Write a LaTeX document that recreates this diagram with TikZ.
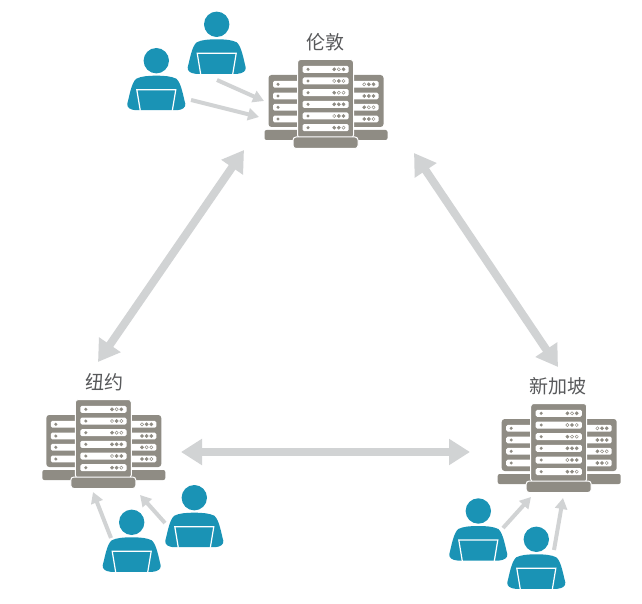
\documentclass[tikz,border=0pt]{standalone}
\usepackage{fontspec}
\usepackage{xcolor}
\usepackage{tikz}
\usetikzlibrary{arrows.meta}
\newfontfamily\cjk{Noto Sans CJK SC}
\definecolor{srvgray}{HTML}{8F8C84}
\definecolor{usrblue}{HTML}{1A93B5}
\definecolor{arrgray}{HTML}{D1D3D4}
\definecolor{txtgray}{HTML}{58595B}
\tikzset{
  srvpic/.pic={
    \fill[srvgray,rounded corners=2pt] (-61,-7) rectangle (-20,3);
    \fill[srvgray,rounded corners=2pt] (20,-7) rectangle (62,3);
    \fill[srvgray,rounded corners=3pt] (-57,-62) rectangle (-20,-10);
    \fill[srvgray,rounded corners=3pt] (20,-62) rectangle (58,-10);
    \foreach \y/\da/\db/\dc in {-52.7/white/srvgray/srvgray,-41/srvgray/srvgray/srvgray,-29.7/srvgray/white/white,-18/srvgray/srvgray/white} {
      \fill[white,rounded corners=1.5pt] (-52.5,\y-3.4) rectangle (-20,\y+3.4);
      \fill[white,rounded corners=1.5pt] (20,\y-3.4) rectangle (53,\y+3.4);
      \fill[srvgray] (-47.5,\y) circle (1.7);
      \filldraw[srvgray,line width=.5pt,fill=\da] (38.7,\y) circle (1.6);
      \filldraw[srvgray,line width=.5pt,fill=\db] (43.3,\y) circle (1.6);
      \filldraw[srvgray,line width=.5pt,fill=\dc] (48,\y) circle (1.6);
    }
    \filldraw[draw=white,fill=srvgray,line width=1pt,rounded corners=3pt] (-28,1) rectangle (28,-77.5);
    \foreach \y/\da/\db/\dc in {-67.7/srvgray/white/srvgray,-56/white/srvgray/white,-44.3/srvgray/white/white,-32.7/srvgray/srvgray/srvgray,-21/white/srvgray/srvgray,-9.3/srvgray/srvgray/white} {
      \fill[white,rounded corners=1.5pt] (-23,\y-3.5) rectangle (23.2,\y+3.5);
      \fill[srvgray] (-17.5,\y) circle (1.7);
      \filldraw[srvgray,line width=.5pt,fill=\da] (8.7,\y) circle (1.6);
      \filldraw[srvgray,line width=.5pt,fill=\db] (13.3,\y) circle (1.6);
      \filldraw[srvgray,line width=.5pt,fill=\dc] (18,\y) circle (1.6);
    }
    \filldraw[draw=white,fill=srvgray,line width=1pt,rounded corners=3pt] (-32.5,0) rectangle (32.5,11.5);
  },
  usrpic/.pic={
    \fill[usrblue] (0,0) circle (12.7);
    \fill[usrblue] (0,15) .. controls (-8,15) and (-15,15.5) .. (-20,18)
      .. controls (-25,22) and (-27,36) .. (-29,43)
      .. controls (-29.5,47) and (-26,49) .. (-21,49.5) -- (21,49.5)
      .. controls (26,49) and (29.5,47) .. (29,43)
      .. controls (27,36) and (25,22) .. (20,18)
      .. controls (15,15.5) and (8,15) .. (0,15) -- cycle;
    \draw[white,line width=1.2pt] (-16,50) -- (-19.5,29) -- (19.5,29) -- (16,50);
  }
}
\begin{document}
\begin{tikzpicture}[x=1pt,y=-1pt,
    lab/.style={font=\cjk\fontsize{19}{19}\selectfont,text=txtgray,inner sep=0pt},
    bigarr/.style={{Triangle[length=21pt,width=25pt]}-{Triangle[length=21pt,width=25pt]},arrgray,line width=8pt},
    smallarr/.style={-{Triangle[length=11pt,width=12pt]},arrgray,line width=4pt}]
  \useasboundingbox (0,0) rectangle (642,604);
  \pic (lon) at (325.5,137) {srvpic};
  \pic (nyc) at (103.3,477) {srvpic};
  \pic (sin) at (558.7,481) {srvpic};
  \node[lab] (lonlab) at (325.5,42) {伦敦};
  \node[lab] (nyclab) at (104,382) {纽约};
  \node[lab] (sinlab) at (558,386) {新加坡};
  \foreach \n/\x/\y in {u1/216.7/24.3,u2/156.3/60.7,u3/194.3/497.7,u4/131.7/522.3,u5/478.3/511,u6/536.3/539.3} {
    \pic (\n) at (\x,\y) {usrpic};
  }
  \foreach \n/\x/\y in {lonA/244/150,lonB/414/153,nycA/98/362,nycB/181/452,sinA/558/367,sinB/470/452} {
    \coordinate (\n) at (\x,\y);
  }
  \draw[bigarr] (lonA) -- (nycA);
  \draw[bigarr] (lonB) -- (sinA);
  \draw[bigarr] (nycB) -- (sinB);
  \foreach \n/\xa/\ya/\xb/\yb in {a/217/80/264/101,b/191/100/259/117,c/111/538/93/492,d/165/523/140/495,e/503/528/531/497,f/554/550/563/498} {
    \coordinate (\n0) at (\xa,\ya);
    \coordinate (\n1) at (\xb,\yb);
    \draw[smallarr] (\n0) -- (\n1);
  }
\end{tikzpicture}
\end{document}
